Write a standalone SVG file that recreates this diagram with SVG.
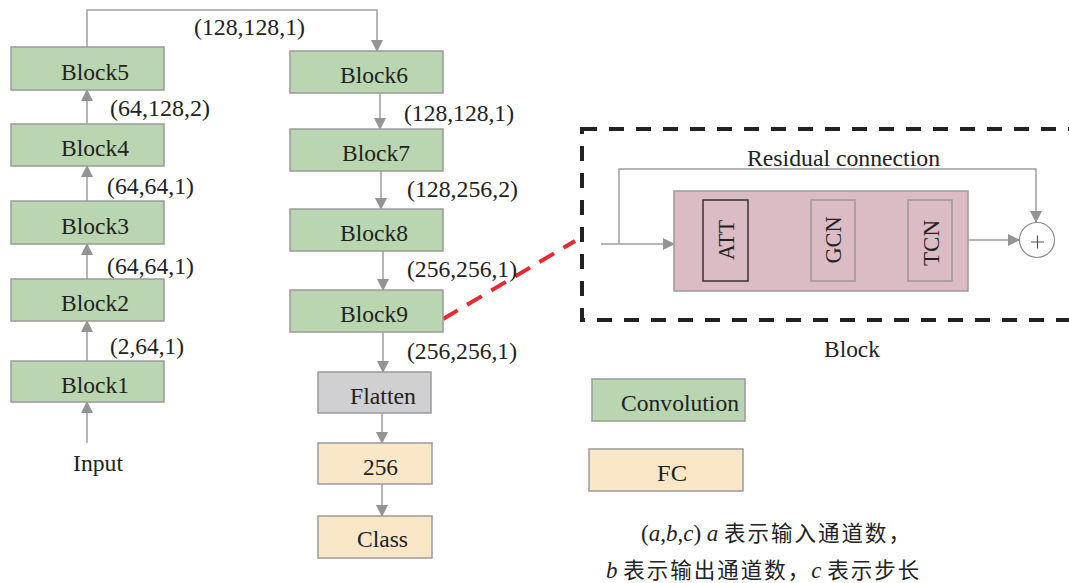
<svg xmlns="http://www.w3.org/2000/svg" width="1069" height="583" viewBox="0 0 1069 583">
<defs>
<marker id="ah" markerWidth="12" markerHeight="12" viewBox="0 0 12 12" refX="11" refY="6" orient="auto" markerUnits="userSpaceOnUse">
<path d="M0,0 L12,6 L0,12 Z" fill="#949494"/>
</marker>
</defs>
<style>
text{font-family:"Liberation Serif","Times New Roman",serif;fill:#222;font-size:23.5px}
.conv{fill:#b9d6b1;stroke:#9a9a9a;stroke-width:1.5}
.flat{fill:#d0d0d2;stroke:#9a9a9a;stroke-width:1.5}
.fc{fill:#f9e7c8;stroke:#9a9a9a;stroke-width:1.5}
.arr{fill:none;stroke:#9e9e9e;stroke-width:1.5;marker-end:url(#ah)}
.sub{fill:none;stroke:#999;stroke-width:1.5}
.cjk{font-family:"Noto Sans CJK SC",sans-serif;font-size:21.5px;letter-spacing:2px}
.cap{font-size:23px}
</style>
<rect width="1069" height="583" fill="#fff"/>

<g id="connectors">
<line class="arr" x1="87" y1="443" x2="87" y2="402"/>
<line class="arr" x1="87" y1="361" x2="87" y2="321"/>
<line class="arr" x1="87" y1="279" x2="87" y2="244"/>
<line class="arr" x1="87" y1="201" x2="87" y2="166"/>
<line class="arr" x1="87" y1="124" x2="87" y2="90"/>
<path class="arr" d="M87,47 V10 H377 V51"/>
<line class="arr" x1="380" y1="93" x2="380" y2="129"/>
<line class="arr" x1="381" y1="171" x2="381" y2="209"/>
<line class="arr" x1="383" y1="251" x2="383" y2="290"/>
<line class="arr" x1="383" y1="332" x2="383" y2="372"/>
<line class="arr" x1="382" y1="413" x2="382" y2="443"/>
<line class="arr" x1="382" y1="484" x2="382" y2="516"/>
<line x1="443" y1="319" x2="575" y2="241" stroke="#e8282c" stroke-width="4" stroke-dasharray="17,11"/>
<line class="arr" x1="601" y1="244" x2="674" y2="244"/>
<path class="arr" d="M619,244 V169 H1036 V222"/>
<line class="arr" x1="968" y1="240" x2="1019" y2="240"/>
</g>

<g id="labels">
<text x="194" y="35" textLength="111" lengthAdjust="spacingAndGlyphs">(128,128,1)</text>
<text x="110" y="116" textLength="100" lengthAdjust="spacingAndGlyphs">(64,128,2)</text>
<text x="107" y="194" textLength="87" lengthAdjust="spacingAndGlyphs">(64,64,1)</text>
<text x="107" y="274" textLength="87" lengthAdjust="spacingAndGlyphs">(64,64,1)</text>
<text x="110" y="354" textLength="74" lengthAdjust="spacingAndGlyphs">(2,64,1)</text>
<text x="404" y="121" textLength="110" lengthAdjust="spacingAndGlyphs">(128,128,1)</text>
<text x="407" y="197" textLength="111" lengthAdjust="spacingAndGlyphs">(128,256,2)</text>
<text x="407" y="277" textLength="110" lengthAdjust="spacingAndGlyphs">(256,256,1)</text>
<text x="407" y="359" textLength="110" lengthAdjust="spacingAndGlyphs">(256,256,1)</text>
<text x="73" y="471" textLength="50" lengthAdjust="spacingAndGlyphs">Input</text>
</g>

<g id="block5"><rect class="conv" x="11" y="47" width="153" height="43"/><text x="61" y="80" textLength="68" lengthAdjust="spacingAndGlyphs">Block5</text></g>
<g id="block4"><rect class="conv" x="11" y="124" width="153" height="42"/><text x="61" y="156" textLength="68" lengthAdjust="spacingAndGlyphs">Block4</text></g>
<g id="block3"><rect class="conv" x="11" y="201" width="153" height="43"/><text x="61" y="234" textLength="68" lengthAdjust="spacingAndGlyphs">Block3</text></g>
<g id="block2"><rect class="conv" x="11" y="279" width="153" height="42"/><text x="61" y="311" textLength="68" lengthAdjust="spacingAndGlyphs">Block2</text></g>
<g id="block1"><rect class="conv" x="11" y="361" width="153" height="41"/><text x="61" y="393" textLength="68" lengthAdjust="spacingAndGlyphs">Block1</text></g>

<g id="block6"><rect class="conv" x="290" y="51" width="153" height="42"/><text x="340" y="83" textLength="68" lengthAdjust="spacingAndGlyphs">Block6</text></g>
<g id="block7"><rect class="conv" x="290" y="129" width="153" height="42"/><text x="342" y="161" textLength="68" lengthAdjust="spacingAndGlyphs">Block7</text></g>
<g id="block8"><rect class="conv" x="290" y="209" width="153" height="42"/><text x="340" y="241" textLength="68" lengthAdjust="spacingAndGlyphs">Block8</text></g>
<g id="block9"><rect class="conv" x="290" y="290" width="153" height="42"/><text x="340" y="322" textLength="68" lengthAdjust="spacingAndGlyphs">Block9</text></g>
<g id="flatten"><rect class="flat" x="318" y="372" width="113" height="41"/><text x="350" y="404" textLength="66" lengthAdjust="spacingAndGlyphs">Flatten</text></g>
<g id="fc256"><rect class="fc" x="318" y="443" width="114" height="41"/><text x="363" y="475" textLength="35" lengthAdjust="spacingAndGlyphs">256</text></g>
<g id="class"><rect class="fc" x="318" y="516" width="114" height="42"/><text x="357" y="547" textLength="51" lengthAdjust="spacingAndGlyphs">Class</text></g>

<g id="block-detail">
<rect x="582" y="129" width="500" height="191" fill="none" stroke="#222" stroke-width="4" stroke-dasharray="15,12"/>
<text x="747" y="166" textLength="193" lengthAdjust="spacingAndGlyphs">Residual connection</text>
<rect x="674" y="191" width="294" height="100" fill="#dbbcc4" stroke="#9a9a9a" stroke-width="1.5"/>
<g id="att"><rect x="703" y="200" width="45" height="81" fill="none" stroke="#333" stroke-width="1.5"/><text transform="translate(734,240) rotate(-90)" text-anchor="middle" textLength="40" lengthAdjust="spacingAndGlyphs">ATT</text></g>
<g id="gcn"><rect class="sub" x="811" y="200" width="44" height="81"/><text transform="translate(841,240) rotate(-90)" text-anchor="middle" textLength="47" lengthAdjust="spacingAndGlyphs">GCN</text></g>
<g id="tcn"><rect class="sub" x="908" y="200" width="44" height="81"/><text transform="translate(939,243) rotate(-90)" text-anchor="middle" textLength="46" lengthAdjust="spacingAndGlyphs">TCN</text></g>
<g id="sum"><circle cx="1037" cy="240" r="17.5" fill="#fff" stroke="#8a8a8a" stroke-width="1.2"/><path d="M1031,242 H1044 M1037.5,235.5 V248.5" stroke="#555" stroke-width="1.2"/></g>
<text x="824" y="357" textLength="56" lengthAdjust="spacingAndGlyphs">Block</text>
</g>

<g id="legend-conv"><rect class="conv" x="592" y="379" width="153" height="42"/><text x="621" y="411" textLength="118" lengthAdjust="spacingAndGlyphs">Convolution</text></g>
<g id="legend-fc"><rect class="fc" x="589" y="449" width="154" height="42"/><text x="657" y="481" textLength="30" lengthAdjust="spacingAndGlyphs">FC</text></g>

<g id="caption">
<text class="cap" x="641" y="541">(<tspan font-style="italic">a</tspan>,<tspan font-style="italic">b</tspan>,<tspan font-style="italic">c</tspan>) <tspan font-style="italic">a</tspan> <tspan class="cjk">表示输入通道数，</tspan></text>
<text class="cap" x="606" y="578"><tspan font-style="italic">b</tspan> <tspan class="cjk">表示输出通道数，</tspan><tspan font-style="italic">c</tspan> <tspan class="cjk">表示步长</tspan></text>
</g>
</svg>
